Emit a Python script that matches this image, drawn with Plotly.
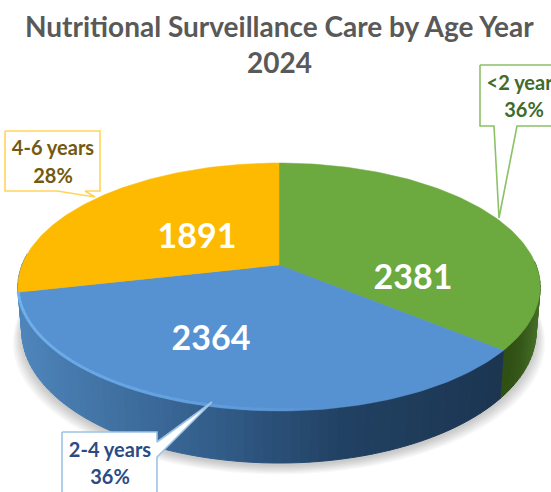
import numpy as np
import plotly.graph_objects as go

# ---- data ----
categories = ["<2 years", "2-4 years", "4-6 years"]
values = [2381, 2364, 1891]
title_lines = ["Nutritional Surveillance Care by Age Year", "2024"]

# ---- style ----
FONT = "Lato"
top_colors = ["#6CA93F", "#5691D1", "#FDBA00"]
callout_border = ["#8CC168", "#9DC3E6", "#FFD45C"]
callout_text = ["#3F6B2B", "#2B4B85", "#735A10"]
# side shading: (screen x, colour) stops per slice; the third slice has no visible wall
side_stops = [
    [(495, (44, 74, 18)), (520, (52, 86, 24)), (540, (70, 112, 38))],
    [(18, (78, 134, 188)), (90, (68, 118, 168)), (220, (50, 92, 136)), (340, (34, 66, 100)), (500, (28, 54, 82))],
]
CX, CY = 279.0, 265.0      # apex on screen
A, B, K = 257.0, 120.1, 0.1774   # perspective disc
DEPTH, BOTTOM_SCALE = 42.8, 0.985
value_pos = [(413, 280), (211, 341), (197, 239)]
callouts = [
    dict(box=[(480, 65), (580, 65), (580, 126), (517, 126), (499, 218), (494, 126), (480, 126)], tx=524, ty=(85, 112)),
    dict(box=[(62, 432), (157, 432), (157, 442), (212, 402), (157, 457), (157, 500), (62, 500)], tx=110, ty=(452, 479)),
    dict(box=[(5, 131), (100, 131), (100, 191), (85, 191), (95, 197), (57, 191), (5, 191)], tx=53, ty=(150, 178)),
]


def top(theta):
    """theta: clockwise from far point of the disc, radians."""
    u, v = np.sin(theta), np.cos(theta)
    d = 1 + K * v
    return CX + A * u / d, CY - B * v / d


def bottom(theta):
    x, y = top(theta)
    v = np.cos(theta)
    return CX + (x - CX) * BOTTOM_SCALE, y + DEPTH / (1 + K * v)


def ramp(stops, x):
    xs = [s[0] for s in stops]
    rgb = [np.interp(x, xs, [s[1][i] for s in stops]) for i in range(3)]
    return "rgb(%d,%d,%d)" % tuple(rgb)


def poly(x, y, color, line=None, w=1):
    return go.Scatter(x=list(x), y=list(y), mode="lines", fill="toself", fillcolor=color,
                      line=dict(color=line or color, width=w), hoverinfo="skip", showlegend=False)


total = sum(values)
edges = np.concatenate([[0], np.cumsum(values)]) / total * 2 * np.pi
fig = go.Figure()

# soft shadow
all_t = np.linspace(0, 2 * np.pi, 240)
for i in range(8):
    bx, by = bottom(all_t)
    grow = 1 + 0.005 * i
    fig.add_trace(poly(CX + (bx - CX) * grow, by + 3 + i * 1.2, "rgba(0,0,0,0.028)", line="rgba(0,0,0,0)", w=0))

# side wall (front half only); the blue wall runs on to the left extreme of the disc
wall_edges = [(np.pi / 2 * 0.98, edges[1]), (edges[1], 3 * np.pi / 2 * 1.02)]
for k, (t0, t1) in enumerate(wall_edges):
    grid = np.linspace(t0, t1, max(3, int((t1 - t0) / 0.03)))
    for a, b in zip(grid[:-1], grid[1:]):
        xa, ya = top(a); xb, yb = top(b)
        xc, yc = bottom(b); xd, yd = bottom(a)
        fig.add_trace(poly([xa, xb, xc, xd, xa], [ya, yb, yc, yd, ya], ramp(side_stops[k], (xa + xb) / 2)))

# top faces
for k in range(len(values)):
    t = np.linspace(edges[k], edges[k + 1], 120)
    x, y = top(t)
    fig.add_trace(poly(np.r_[CX, x, CX], np.r_[CY, y, CY], top_colors[k], w=0.5))

# bevel highlight along the front rim of the blue slice
grid = np.linspace(np.deg2rad(257), np.deg2rad(170), 50)
for i, (a, b) in enumerate(zip(grid[:-1], grid[1:])):
    f = i / 48
    xs, ys = top(np.array([a, b]))
    c = "rgba(120,185,245,%.2f)" % (0.85 * (1 - f) ** 0.7)
    fig.add_trace(go.Scatter(x=xs, y=ys - 1.5, mode="lines", line=dict(color=c, width=3),
                             hoverinfo="skip", showlegend=False))

# callouts
for k, c in enumerate(callouts):
    bx, by = zip(*c["box"])
    fig.add_trace(poly(list(bx) + [bx[0]], list(by) + [by[0]], "#FFFFFF", line=callout_border[k], w=1.6))
    pct = round(values[k] / total * 100)
    fig.add_trace(go.Scatter(x=[c["tx"], c["tx"]], y=list(c["ty"]), mode="text",
                             text=["<b>%s</b>" % categories[k].replace("<", "&lt;"), "<b>%d%%</b>" % pct],
                             textposition="middle center", cliponaxis=False,
                             textfont=dict(family=FONT, size=20, color=callout_text[k]),
                             hoverinfo="skip", showlegend=False))

# value labels
fig.add_trace(go.Scatter(x=[p[0] for p in value_pos], y=[p[1] for p in value_pos], mode="text",
                         text=["<b>%d</b>" % v for v in values], textposition="middle center",
                         textfont=dict(family=FONT, size=34, color="#FFFFFF"),
                         hoverinfo="skip", showlegend=False))

fig.update_layout(
    width=551, height=492, autosize=False,
    margin=dict(l=0, r=0, t=0, b=0),
    paper_bgcolor="white", plot_bgcolor="white",
    showlegend=False,
    title=dict(text="<b>%s</b>" % title_lines[0], x=0.507, xanchor="center",
               y=1 - 27 / 492, yanchor="middle", font=dict(family=FONT, size=28, color="#595959")),
    annotations=[dict(text="<b>%s</b>" % title_lines[1], x=279, y=62, xref="x", yref="y", showarrow=False,
                      font=dict(family=FONT, size=28, color="#595959"))],
    xaxis=dict(range=[0, 551], visible=False, fixedrange=True),
    yaxis=dict(range=[492, 0], visible=False, fixedrange=True),
)
fig.write_html("out.html", config={"displayModeBar": False},
               post_script="document.body.style.margin='0';document.body.style.overflow='hidden';")
